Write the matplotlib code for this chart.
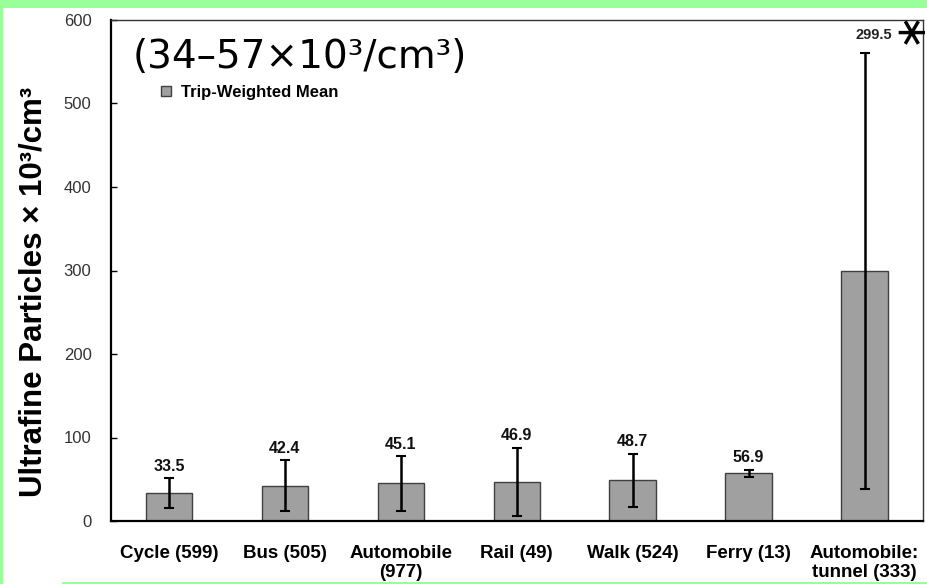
import matplotlib
matplotlib.use("Agg")
import matplotlib.pyplot as plt
from matplotlib.patches import Rectangle
from matplotlib.lines import Line2D

categories = ["Cycle (599)", "Bus (505)", "Automobile\n(977)", "Rail (49)",
              "Walk (524)", "Ferry (13)", "Automobile:\ntunnel (333)"]
means = [33.5, 42.4, 45.1, 46.9, 48.7, 56.9, 299.5]
errors = [18, 30.5, 33, 41, 32, 4.7, 261]
value_labels = ["33.5", "42.4", "45.1", "46.9", "48.7", "56.9", "299.5"]
yticks = [0, 100, 200, 300, 400, 500, 600]

W, H = 927, 584
fig = plt.figure(figsize=(W / 100, H / 100), dpi=100, facecolor="white")
ax = fig.add_axes([111 / W, 1 - 521 / H, (922.5 - 111) / W, (521 - 20) / H])

green = "#99ff99"
fig.patches.append(Rectangle((0, 1 - 8 / H), 1, 8 / H, transform=fig.transFigure,
                             facecolor=green, edgecolor="none", zorder=-1))
fig.patches.append(Rectangle((0, 0), 3 / W, 1, transform=fig.transFigure,
                             facecolor=green, edgecolor="none", zorder=-1))
fig.patches.append(Rectangle((62 / W, 0), 1 - 62 / W, 2 / H, transform=fig.transFigure,
                             facecolor=green, edgecolor="none", zorder=-1))

x = list(range(len(categories)))
ax.bar(x, means, width=0.40, color="#a0a0a0", edgecolor="#404040", linewidth=1.0, zorder=2)
ax.errorbar(x, means, yerr=errors, fmt="none", ecolor="black", elinewidth=1.8,
            capsize=3.5, capthick=1.5, zorder=3)

for i, (m, e, lab) in enumerate(zip(means, errors, value_labels)):
    if i == len(means) - 1:
        ax.annotate(lab, (i, m + e), xytext=(6.5, 8), textcoords="offset points",
                    ha="center", va="bottom", fontsize=10.5, fontweight="bold",
                    family="Liberation Sans", color="#222222")
    else:
        ax.annotate(lab, (i, m + e), xytext=(0, 3), textcoords="offset points",
                    ha="center", va="bottom", fontsize=11.5, fontweight="bold",
                    family="Liberation Sans", color="#111111")

# asterisk next to the tunnel value
fig.text(909 / W, 1 - 27 / H, "\u2217", ha="center", va="center", fontsize=30,
         rotation=90, rotation_mode="anchor", family="DejaVu Sans", color="black")

ax.set_xlim(-0.5, 6.5)
ax.set_ylim(0, 600)
ax.set_yticks(yticks)
ax.set_yticklabels([str(t) for t in yticks], family="Liberation Sans",
                   fontsize=12, color="#333333")
ax.set_xticks(x)
ax.set_xticklabels(categories, family="Liberation Sans", fontsize=13.5,
                   fontweight="bold", linespacing=1.15)
ax.tick_params(axis="x", length=0, pad=17)
ax.tick_params(axis="y", direction="in", length=4, width=1, pad=14)

for side in ["left", "bottom"]:
    ax.spines[side].set_linewidth(1.6)
    ax.spines[side].set_color("black")
for side in ["top", "right"]:
    ax.spines[side].set_linewidth(1.0)
    ax.spines[side].set_color("#333333")

fig.text(34 / W, 1 - 292 / H, "Ultrafine Particles \u00d7 10\u00b3/cm\u00b3", rotation=90,
         ha="center", va="center", fontsize=22.5, fontweight="bold", family="Liberation Sans")

ax.text(133 / W, 1 - 57 / H, "(34\u201357\u00d710\u00b3/cm\u00b3)", transform=fig.transFigure,
        ha="left", va="center", fontsize=28, family="DejaVu Sans", color="black")

handle = Line2D([], [], marker="s", linestyle="none", markersize=7,
                markerfacecolor="#a0a0a0", markeredgecolor="#404040")
leg = ax.legend([handle], ["Trip-Weighted Mean"], loc="center left",
                bbox_to_anchor=(160 / W, 1 - 92 / H), bbox_transform=fig.transFigure,
                frameon=False, handlelength=0.7, handletextpad=0.55,
                prop={"family": "Liberation Sans", "weight": "bold", "size": 12},
                borderpad=0, borderaxespad=0)

fig.savefig("out.png", dpi=100, facecolor="white")
